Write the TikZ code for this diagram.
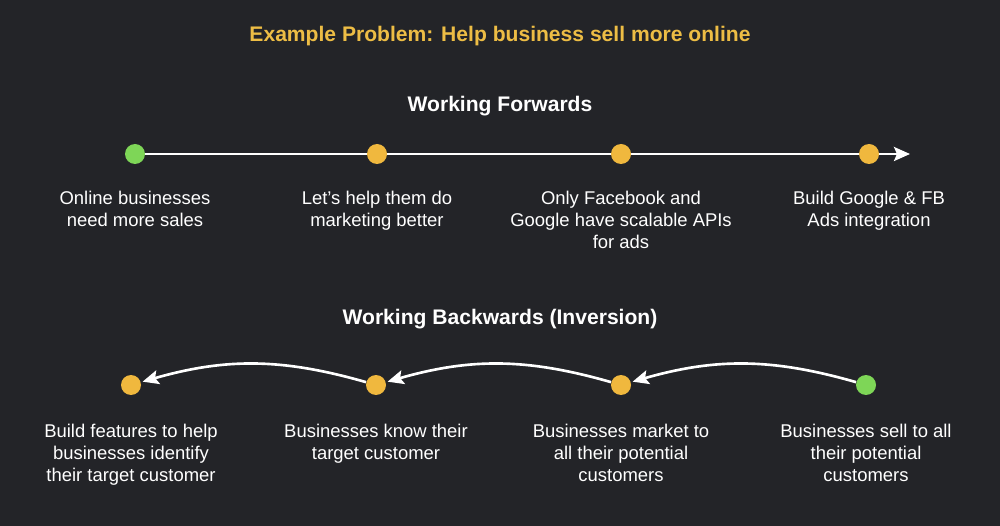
\documentclass[tikz,border=0pt]{standalone}
\usepackage{fontspec}
\setmainfont{Liberation Sans}
\usepackage{xcolor}
\usetikzlibrary{arrows.meta,backgrounds}
\definecolor{bg}{HTML}{232428}
\definecolor{text}{HTML}{FFFFFF}
\definecolor{gold}{HTML}{EDBD45}
\definecolor{dotY}{HTML}{F0B83E}
\definecolor{dotG}{HTML}{7ED657}
\pagecolor{bg}
\tikzset{
  ttl/.style={text=gold, font=\fontsize{12}{14}\selectfont\bfseries},
  hdr/.style={text=text, font=\fontsize{12}{14}\selectfont\bfseries},
  lbl/.style={text=text, font=\fontsize{10.5}{12.6}\selectfont, align=center, anchor=north, inner sep=0pt},
  dotY/.style={circle, fill=dotY, inner sep=0pt, minimum size=4mm},
  dotG/.style={circle, fill=dotG, inner sep=0pt, minimum size=4mm},
  chalk/.style={draw=text, line width=1.5pt, -{Stealth[length=3.2mm, width=2.8mm, inset=0.6mm]}},
  arcback/.style={chalk, bend right=16, shorten >=1pt}
}

\begin{document}
\begin{tikzpicture}[x=0.02cm, y=-0.02cm]
  \useasboundingbox (0,0) rectangle (1000,526);
  \node[ttl] (title) at (500,36) {Example Problem: Help business sell more online};
  % working forwards
  \node[hdr] (fwd) at (500,106) {Working Forwards};
  \node[dotG] (f1) at (135,154) {};
  \node[dotY] (f2) at (377,154) {};
  \node[dotY] (f3) at (621,154) {};
  \node[dotY] (f4) at (869,154) {};
  \coordinate (fend) at (910,154);
  \begin{scope}[on background layer]
    \draw[chalk] (f1.center) -- (fend);
  \end{scope}
  \node[lbl] (l1) at (135,191) {Online businesses\\need more sales};
  \node[lbl] (l2) at (377,191) {Let’s help them do\\marketing better};
  \node[lbl] (l3) at (621,191) {Only Facebook and\\Google have scalable APIs\\for ads};
  \node[lbl] (l4) at (869,191) {Build Google \& FB\\Ads integration};
  % working backwards
  \node[hdr] (bwd) at (500,319) {Working Backwards (Inversion)};
  \node[dotY] (b1) at (131,385) {};
  \node[dotY] (b2) at (376,385) {};
  \node[dotY] (b3) at (621,385) {};
  \node[dotG] (b4) at (866,385) {};
  \draw[arcback] (b4) to (b3);
  \draw[arcback] (b3) to (b2);
  \draw[arcback] (b2) to (b1);
  \node[lbl] (m1) at (131,424) {Build features to help\\businesses identify\\their target customer};
  \node[lbl] (m2) at (376,424) {Businesses know their\\target customer};
  \node[lbl] (m3) at (621,424) {Businesses market to\\all their potential\\customers};
  \node[lbl] (m4) at (866,424) {Businesses sell to all\\their potential\\customers};
\end{tikzpicture}
\end{document}
